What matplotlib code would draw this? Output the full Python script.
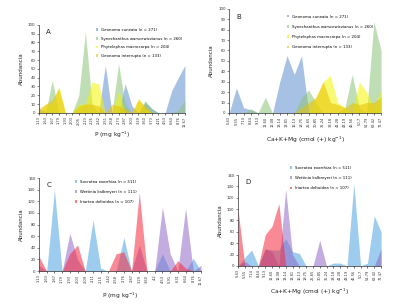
import numpy as np
import matplotlib
matplotlib.use("Agg")
import matplotlib.pyplot as plt
from matplotlib.patches import Patch

# panel A: P (mg/kg)
p_labels_a = ["1.13", "1.63", "1.67", "1.79", "1.93", "2.03", "2.05", "2.23", "2.26", "2.42",
              "2.51", "2.58", "2.73", "2.87", "3.03", "3.29", "3.60", "3.73", "4.21", "4.53",
              "6.64", "8.76", "11.67"]
a_cuneata = [5, 2, 0, 0, 0, 0, 0, 0, 0, 0, 54, 0, 0, 33, 8, 0, 12, 5, 0, 0, 25, 40, 54]
a_synech = [0, 0, 37, 0, 0, 0, 20, 92, 10, 0, 0, 0, 56, 10, 0, 0, 14, 5, 0, 0, 0, 3, 15]
a_phytel = [0, 10, 10, 30, 0, 0, 10, 10, 35, 33, 0, 0, 25, 0, 0, 17, 5, 0, 0, 0, 0, 0, 0]
a_interr = [5, 10, 15, 28, 0, 0, 8, 10, 10, 8, 0, 10, 8, 5, 0, 15, 8, 0, 0, 0, 0, 0, 0]

# panel B: Ca+K+Mg
cak_labels = ["5.43", "5.55", "7.14", "8.44", "9.13", "11.60", "12.08", "13.14", "13.81", "16.13",
              "18.75", "25.65", "30.85", "35.24", "38.18", "41.28", "43.19", "46.56", "50.7",
              "51.79", "62.42", "71.47"]
b_cuneata = [0, 24, 5, 3, 0, 0, 0, 30, 55, 37, 55, 0, 0, 0, 0, 0, 0, 0, 0, 0, 0, 0]
b_synech = [0, 0, 0, 4, 0, 15, 0, 0, 0, 0, 15, 22, 10, 0, 0, 0, 5, 37, 5, 0, 88, 60]
b_phytel = [0, 0, 0, 0, 0, 0, 0, 0, 0, 0, 0, 0, 15, 30, 36, 10, 5, 0, 30, 20, 5, 22]
b_interr = [0, 0, 0, 0, 0, 0, 0, 0, 0, 0, 5, 10, 15, 30, 10, 8, 5, 10, 8, 10, 10, 15]

# panel C: P (mg/kg)
p_labels_c = ["1.13", "1.63", "1.67", "1.79", "1.93", "2.03", "2.09", "2.11", "2.15", "2.42",
              "2.58", "2.76", "2.87", "3.29", "3.60", "4.2", "4.53", "5.91", "6.31", "6.64",
              "8.76", "11.67"]
c_socratea = [0, 0, 140, 0, 0, 0, 0, 88, 5, 0, 0, 58, 0, 0, 0, 0, 30, 0, 0, 0, 22, 0]
c_wettinia = [10, 0, 0, 0, 65, 20, 0, 0, 0, 0, 0, 0, 0, 45, 0, 0, 110, 30, 0, 108, 0, 10]
c_iriartea = [25, 0, 0, 0, 30, 45, 0, 0, 0, 0, 30, 33, 0, 135, 0, 0, 0, 0, 18, 5, 0, 0]

# panel D: Ca+K+Mg
d_socratea = [0, 15, 28, 0, 30, 28, 28, 48, 25, 22, 0, 0, 0, 0, 5, 5, 0, 145, 0, 5, 88, 60]
d_wettinia = [0, 8, 0, 0, 30, 25, 0, 135, 20, 0, 0, 0, 45, 0, 0, 0, 0, 0, 0, 0, 0, 30]
d_iriartea = [100, 0, 0, 0, 55, 70, 110, 0, 0, 0, 0, 0, 0, 0, 0, 0, 0, 0, 0, 0, 0, 0]

names_top = ["Geonoma cuneata (n = 271)", "Synechanthus warscewiczianus (n = 260)",
             "Phytelephas macrocarpa (n = 204)", "Geonoma interrupta (n = 133)"]
names_bot = ["Socratea exorrhiza (n = 511)", "Wettinia kalbreyeri (n = 111)",
             "Iriartea deltoidea (n = 107)"]
cols_top = ["#5f8fd0", "#8cc47a", "#f5f500", "#e8c200"]
cols_bot = ["#4fa3e0", "#9068c8", "#f52a3e"]

P_LABEL = "P (mg kg$^{-1}$)"
C_LABEL = "Ca+K+Mg (cmol (+) kg$^{-1}$)"

fig = plt.figure(figsize=(4.02, 3.06), dpi=100)


def panel(rect, series, colors, names, labels, ymax, ystep, letter, xlabel, leg_anchor, lspace, xpad):
    ax = fig.add_axes(rect)
    x = np.arange(len(labels))
    for s, c in zip(series, colors):
        ax.fill_between(x, 0, s, color=c, alpha=0.55, linewidth=0)
    ax.set_xlim(0, len(labels) - 1)
    ax.set_ylim(0, ymax)
    ax.set_yticks(np.arange(0, ymax + 1, ystep))
    ax.set_xticks(x)
    ax.set_xticklabels(labels, rotation=90, fontsize=2.6, color="#333333")
    ax.tick_params(axis="y", labelsize=2.8, length=1.5, width=0.4, pad=1, colors="#333333")
    ax.tick_params(axis="x", length=1.5, width=0.4, pad=1)
    for sp in ["top", "right"]:
        ax.spines[sp].set_visible(False)
    for sp in ["left", "bottom"]:
        ax.spines[sp].set_linewidth(0.5)
        ax.spines[sp].set_color("#333333")
    ax.set_ylabel("Abundancia", fontsize=4, labelpad=3, color="#222222")
    ax.set_xlabel(xlabel, fontsize=4.2, labelpad=xpad, color="#222222")
    ax.text(0.05, 0.9, letter, transform=ax.transAxes, fontsize=5, color="#222222")
    handles = [Patch(facecolor=c, alpha=0.6, edgecolor="none") for c in colors]
    ax.legend(handles, names, loc="upper left", bbox_to_anchor=leg_anchor, frameon=False,
              fontsize=2.8, handlelength=0.6, handleheight=0.6, labelspacing=lspace,
              handletextpad=0.8, borderaxespad=0)
    return ax


panel([0.097, 0.631, 0.363, 0.288], [a_cuneata, a_synech, a_phytel, a_interr], cols_top,
      names_top, p_labels_a, 100, 10, "A", P_LABEL, (0.38, 0.98), 1.2, 2)
panel([0.570, 0.631, 0.378, 0.340], [b_cuneata, b_synech, b_phytel, b_interr], cols_top,
      names_top, cak_labels, 100, 10, "B", C_LABEL, (0.37, 0.96), 1.6, 6)
panel([0.097, 0.114, 0.403, 0.304], [c_socratea, c_wettinia, c_iriartea], cols_bot,
      names_bot, p_labels_c, 160, 20, "C", P_LABEL, (0.21, 1.0), 1.6, 4)
panel([0.592, 0.131, 0.356, 0.297], [d_socratea, d_wettinia, d_iriartea], cols_bot,
      names_bot, cak_labels, 160, 20, "D", C_LABEL, (0.35, 1.12), 1.6, 5)

fig.savefig("out.png", dpi=100)
